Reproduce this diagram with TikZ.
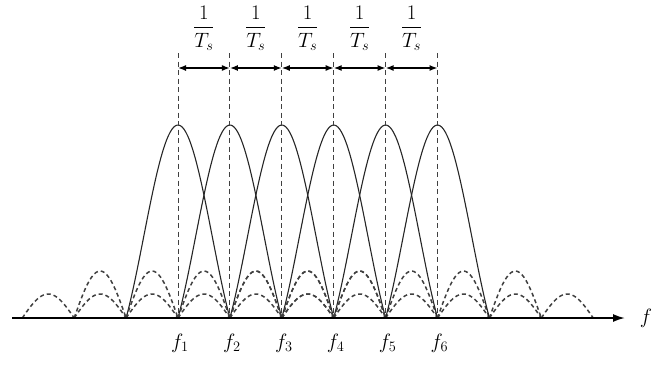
\documentclass[tikz,border=0pt]{standalone}
\usepackage{amsmath}
\usetikzlibrary{arrows.meta,calc}
\begin{document}
\begin{tikzpicture}[x=1pt,y=-1pt,
  mainlobe/.style={line width=1.1pt,black!85},
  sidelobe/.style={line width=1.5pt,black!75,dash pattern=on 4pt off 3pt},
  vline/.style={line width=1pt,black!75,dash pattern=on 5pt off 3.5pt},
  spacing/.style={line width=1.4pt,{Latex[length=8pt,width=6pt]}-{Latex[length=8pt,width=6pt]}},
  axisline/.style={line width=1.8pt,-{Latex[length=12pt,width=8pt]}},
  flabel/.style={font=\fontsize{22}{26}\selectfont,inner sep=0pt},
  fraclabel/.style={font=\fontsize{20}{24}\selectfont,inner sep=0pt}]
\useasboundingbox (0,0) rectangle (667,365);
\def\Y{318}
\def\A{193}
\def\D{51.9}
\def\hone{47}
\def\htwo{24}
% lobes
\foreach \k in {1,...,6} {
  \pgfmathsetmacro\c{178+51.9*(\k-1)}
  \draw[mainlobe] plot[domain=-1:1,samples=60,smooth] ({\c+\D*\x},{\Y-\A*sin(180*\x)/(pi*\x)});
  \draw[sidelobe] plot[domain=1:2,samples=25,smooth] ({\c+\D*\x},{\Y-\hone*sin(180*(\x-1))});
  \draw[sidelobe] plot[domain=-2:-1,samples=25,smooth] ({\c+\D*\x},{\Y-\hone*sin(180*(\x+2))});
  \draw[sidelobe] plot[domain=2:3,samples=25,smooth] ({\c+\D*\x},{\Y-\htwo*sin(180*(\x-2))});
  \draw[sidelobe] plot[domain=-3:-2,samples=25,smooth] ({\c+\D*\x},{\Y-\htwo*sin(180*(\x+3))});
}
% vertical dashed lines, arrows, labels
\foreach \k in {1,...,6} {
  \pgfmathsetmacro\c{178+51.9*(\k-1)}
  \coordinate (t\k) at (\c,53);
  \coordinate (b\k) at (\c,\Y);
  \coordinate (a\k) at (\c,68);
  \draw[vline] (t\k) -- (b\k);
  \node[flabel] (fl\k) at (\c+2,343) {$f_{\k}$};
}
\foreach \k [evaluate=\k as \n using int(\k+1)] in {1,...,5} {
  \draw[spacing] (a\k) -- (a\n);
  \node[fraclabel] (fr\k) at ($(a\k)!0.5!(a\n)+(0,-40)$) {$\dfrac{1}{T_s}$};
}
% axis
\coordinate (axL) at (12,\Y);
\coordinate (axR) at (625,\Y);
\draw[axisline] (axL) -- (axR);
\node[flabel] (fax) at (646,318) {$f$};
\end{tikzpicture}
\end{document}
